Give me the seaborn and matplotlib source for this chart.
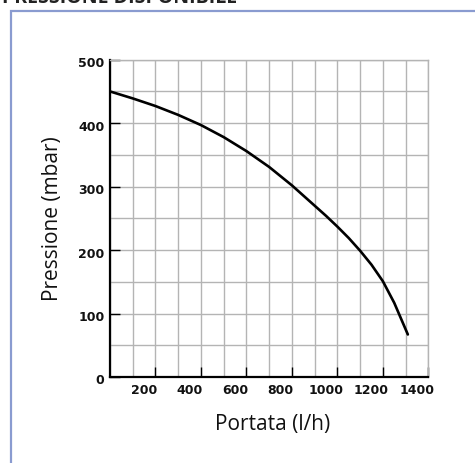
import numpy as np
import pandas as pd
import matplotlib
matplotlib.use("Agg")
import matplotlib.pyplot as plt
import matplotlib.transforms as mtransforms
from matplotlib.patches import Rectangle
from matplotlib.ticker import MultipleLocator
import seaborn as sns

# Pump curve: available pressure vs flow rate
portata = [0, 100, 200, 300, 400, 500, 600, 700, 800, 900, 950, 1000, 1050,
           1100, 1150, 1200, 1250, 1310]
pressione = [450, 439, 427, 413, 397, 378, 356, 331, 302, 270, 254, 237, 219,
             199, 177, 151, 117, 67]

x_ticks = [200, 400, 600, 800, 1000, 1200, 1400]
y_ticks = [0, 100, 200, 300, 400, 500]

title_text = "PRESSIONE DISPONIBILE"
x_label = "Portata (l/h)"
y_label = "Pressione (mbar)"

sns.set_theme(style="white")
plt.rcParams["font.family"] = ["DejaVu Sans"]

W, H = 475, 464
fig = plt.figure(figsize=(W / 100, H / 100), dpi=100)
fig.patch.set_facecolor("white")

ax = fig.add_axes([110 / W, (H - 378) / H, (428.3 - 110) / W, (378 - 60.7) / H])

df = pd.DataFrame({"portata": portata, "pressione": pressione})
sns.lineplot(data=df, x="portata", y="pressione", ax=ax, color="black",
             linewidth=1.9, estimator=None, sort=False)
ax.lines[0].set_solid_joinstyle("round")

ax.set_xlim(0, 1400)
ax.set_ylim(0, 500)

grid_col = "#b4b4b4"
ax.xaxis.set_minor_locator(MultipleLocator(100))
ax.yaxis.set_minor_locator(MultipleLocator(50))
ax.grid(which="both", color=grid_col, linewidth=1.0)
ax.set_axisbelow(True)

ax.set_xticks(x_ticks)
ax.set_xticklabels([str(v) for v in x_ticks])
ax.set_yticks(y_ticks)
ax.set_yticklabels([str(v) for v in y_ticks])

ax.tick_params(axis="both", which="major", direction="in", length=7.5, width=1.0,
               color="black", labelsize=9, labelcolor="#111111")
ax.tick_params(axis="x", which="major", pad=4.6, bottom=True)
ax.tick_params(axis="y", which="major", pad=4.0, left=True)
ax.tick_params(which="minor", length=0)
for lab in ax.get_xticklabels() + ax.get_yticklabels():
    lab.set_fontweight("bold")

# tick label offsets
for lab in ax.get_xticklabels():
    lab.set_transform(lab.get_transform() +
                      mtransforms.ScaledTranslation(-11.5 / 100, 0, fig.dpi_scale_trans))
for lab in ax.get_yticklabels():
    lab.set_transform(lab.get_transform() +
                      mtransforms.ScaledTranslation(0, -1.5 / 100, fig.dpi_scale_trans))

for side in ("left", "bottom"):
    ax.spines[side].set_color("black")
    ax.spines[side].set_linewidth(1.6)
for side in ("top", "right"):
    ax.spines[side].set_color(grid_col)
    ax.spines[side].set_linewidth(1.0)

ax.set_xlabel("")
ax.set_ylabel("")
fig.text(273 / W, 1 - 425 / H, x_label, ha="center", va="center",
         fontsize=15, family="Open Sans", color="#111111")
fig.text(53 / W, 1 - 219 / H, y_label, ha="center", va="center", rotation=90,
         fontsize=15, family="Open Sans", color="#111111")

# Heading and panel frame
fig.text(2 / W, 1 - 3 / H, title_text, ha="left", va="baseline",
         fontsize=14, fontweight="bold", family="Open Sans", color="#222222")
fig.patches.append(Rectangle((11 / W, -0.05), 1.1, (H - 12) / H + 0.05,
                             transform=fig.transFigure, fill=False,
                             edgecolor="#8a9bd0", linewidth=1.6))

fig.savefig("out.png", dpi=100)
